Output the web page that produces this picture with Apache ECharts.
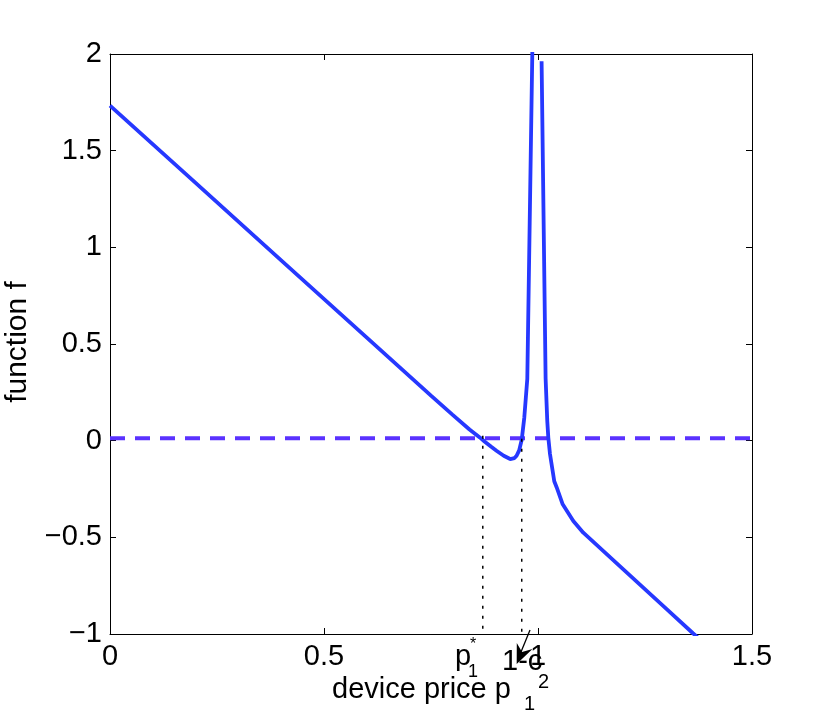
<!DOCTYPE html>
<html>
<head>
<meta charset="utf-8">
<script src="https://cdn.jsdelivr.net/npm/echarts@6/dist/echarts.min.js"></script>
<style>
html,body{margin:0;padding:0;background:#fff;}
#c{width:830px;height:721px;}
</style>
</head>
<body>
<div id="c"></div>
<script>
// ---- data ----
const xTicks = [0, 0.5, 1, 1.5];
const yTicks = [-1, -0.5, 0, 0.5, 1, 1.5, 2];
// left branch of f (device price p1 -> f)
const leftX = [0, 0.2, 0.4, 0.6, 0.75, 0.8, 0.84, 0.864, 0.875, 0.89, 0.903, 0.92, 0.935, 0.945, 0.95, 0.956, 0.962, 0.968, 0.975, 0.99];
const leftY = [1.733, 1.333, 0.933, 0.533, 0.233, 0.135, 0.058, 0.017, -0.004, -0.03, -0.052, -0.078, -0.095, -0.09, -0.078, -0.05, 0.005, 0.12, 0.32, 2.48];
// right branch of f
const rightX = [1.0084, 1.0178, 1.0217, 1.0241, 1.028, 1.038, 1.0437, 1.0577, 1.0825, 1.1058, 1.2, 1.3, 1.362, 1.4];
const rightY = [1.963, 0.32, 0.10, 0.016, -0.069, -0.21, -0.242, -0.329, -0.415, -0.476, -0.667, -0.870, -0.996, -1.07];
// dashed reference level
const refX = [0, 1.5];
const refY = [0.012, 0.012];
// dotted markers: p1* and 1-c2
const markX = [0.871, 0.962];
const markTop = [0.026, 0.01];
const yMin = -1, yMax = 2, xMin = 0, xMax = 1.5;

const FONT = '"Liberation Sans", Arial, Helvetica, sans-serif';

const curve = [];
leftX.forEach((x, i) => curve.push([x, leftY[i]]));
curve.push(['-', '-']);
rightX.forEach((x, i) => curve.push([x, rightY[i]]));

const dotted = [];
markX.forEach((x, i) => { dotted.push([x, markTop[i]]); dotted.push([x, yMin]); dotted.push(['-', '-']); });

const chart = echarts.init(document.getElementById('c'), null, {renderer: 'canvas'});
const minusFmt = v => String(v).replace('-', '\u2212');
const axCommon = {
  min: xMin, max: xMax, interval: 0.5,
  axisLine: {show: true, onZero: false, lineStyle: {color: '#000', width: 1}},
  axisTick: {show: true, inside: true, length: 6, lineStyle: {color: '#000', width: 1}},
  splitLine: {show: false}
};
chart.setOption({
  backgroundColor: '#fff',
  animation: false,
  grid: {left: 110, top: 54, right: 78, bottom: 87, containLabel: false},
  xAxis: [
    Object.assign({}, axCommon, {type: 'value', position: 'bottom',
      axisLabel: {show: true, margin: 8, color: '#000', fontSize: 29, fontFamily: FONT, formatter: minusFmt}}),
    Object.assign({}, axCommon, {type: 'value', position: 'top', axisLabel: {show: false}})
  ],
  yAxis: [
    Object.assign({}, axCommon, {type: 'value', position: 'left', min: yMin, max: yMax,
      axisLabel: {show: true, margin: 8, color: '#000', fontSize: 29, fontFamily: FONT, formatter: minusFmt}}),
    Object.assign({}, axCommon, {type: 'value', position: 'right', min: yMin, max: yMax, axisLabel: {show: false}})
  ],
  series: [
    {type: 'line', data: refX.map((x, i) => [x, refY[i]]), symbol: 'none', silent: true,
      lineStyle: {color: '#5a32ff', width: 4, type: [15, 10]}},
    {type: 'line', data: curve, symbol: 'none', smooth: false, connectNulls: false, clip: true,
      lineStyle: {color: '#2638ff', width: 3.8}},
    {type: 'line', data: dotted, symbol: 'none', connectNulls: false,
      lineStyle: {color: '#000', width: 1.5, type: [3, 7]}}
  ]
});

// annotations, anchored to the plot's bottom-left corner
const o = chart.convertToPixel({xAxisIndex: 0, yAxisIndex: 0}, [xMin, yMin]);
const ox = o[0], oy = o[1];
function txt(s, x, y, size, extra) {
  return Object.assign({type: 'text', x: ox + x, y: oy + y, silent: true,
    style: {text: s, font: size + 'px ' + FONT, fill: '#000', textAlign: 'left', textVerticalAlign: 'middle'}}, extra || {});
}
const graphics = [
  txt('device price p', 222, 56, 29),
  txt('1', 414, 70, 20),
  txt('p', 345, 23, 29),
  txt('1', 358, 38, 18),
  txt('*', 360, 11, 16),
  txt('1-c', 392, 28, 29),
  txt('2', 428, 48, 20),
  {type: 'text', x: 18, y: 342, rotation: Math.PI / 2, silent: true,
    style: {text: 'function f', font: '30px ' + FONT, fill: '#000', textAlign: 'center', textVerticalAlign: 'middle'}},
  {type: 'line', silent: true, shape: {x1: ox + 420, y1: oy - 4, x2: ox + 411, y2: oy + 18},
    style: {stroke: '#000', lineWidth: 1.3}},
  {type: 'polygon', silent: true,
    shape: {points: [[ox + 406.7, oy + 30], [ox + 406.8, oy + 9], [ox + 412, oy + 18], [ox + 422.5, oy + 15]]},
    style: {fill: '#000'}}
];
chart.setOption({graphic: graphics});
</script>
</body>
</html>
